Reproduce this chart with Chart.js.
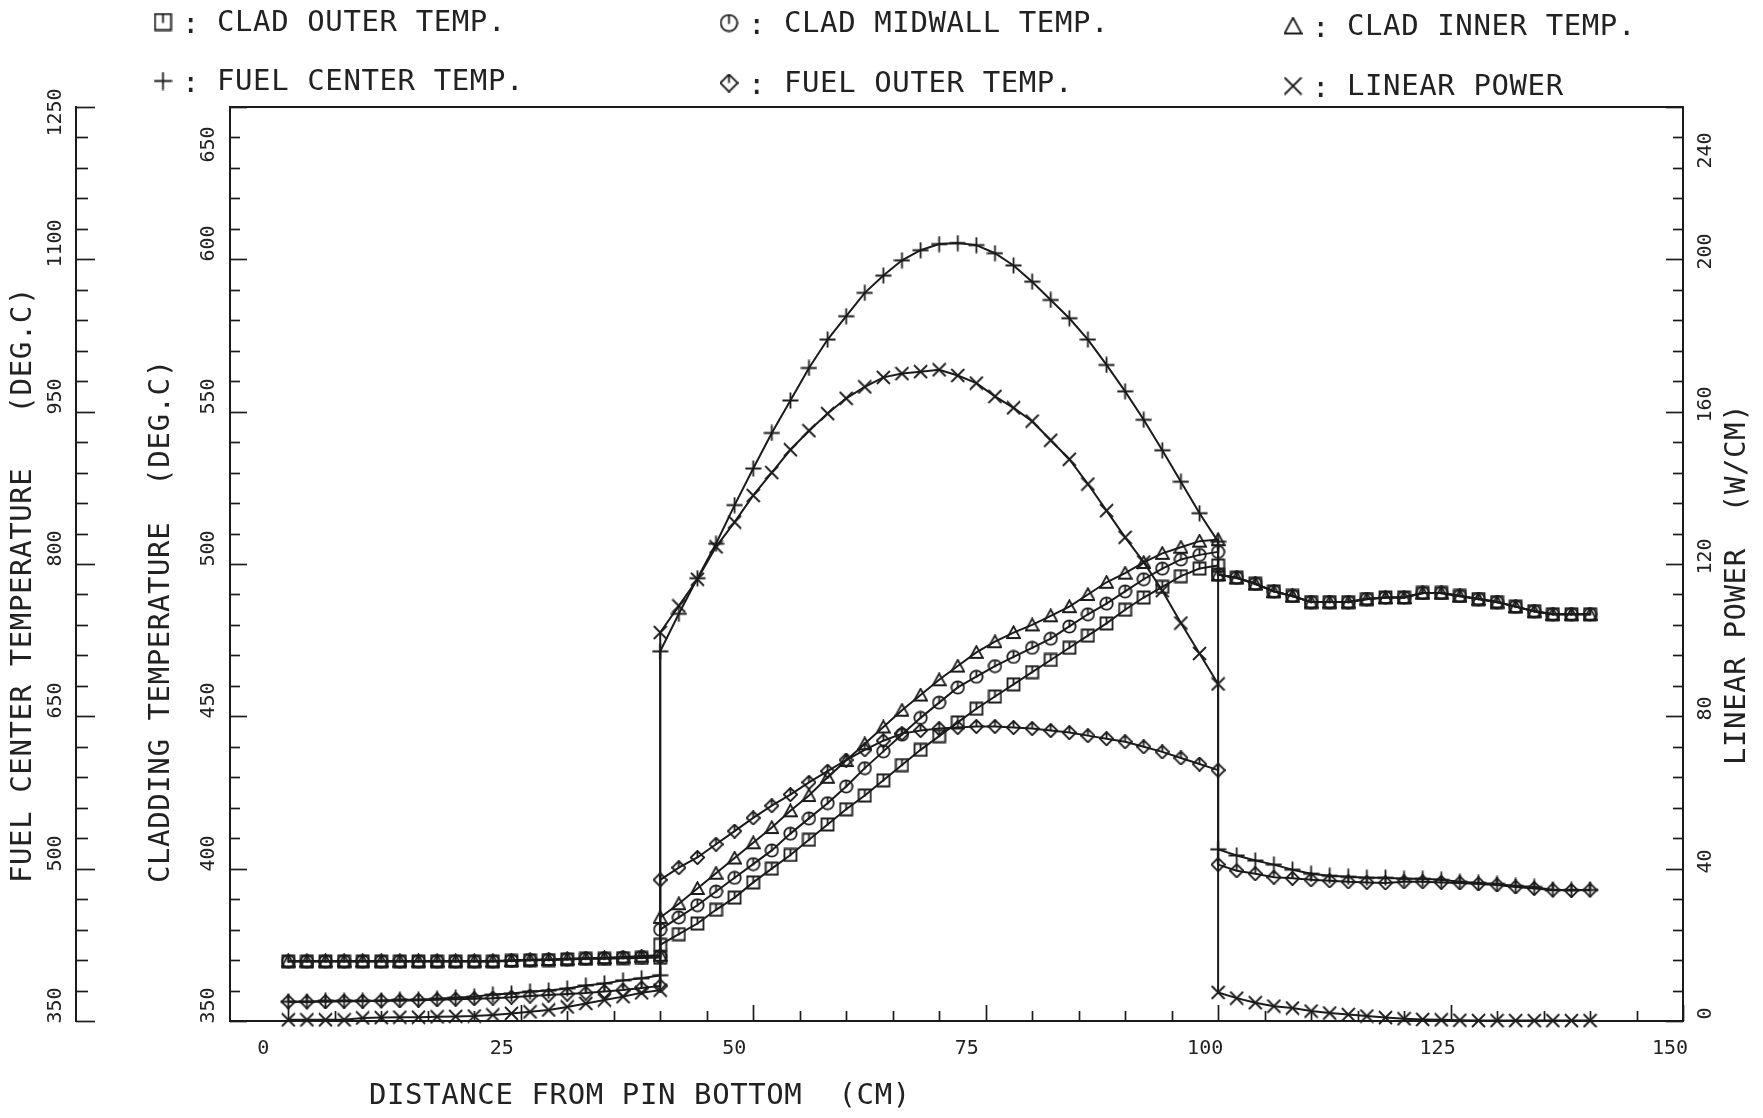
<!DOCTYPE html>
<html>
<head>
<meta charset="utf-8">
<title>Pin temperatures</title>
<script src="https://cdn.jsdelivr.net/npm/chart.js@4.4.1/dist/chart.umd.min.js"></script>
<style>
  html, body { margin: 0; padding: 0; background: #ffffff; }
  canvas { display: block; }
</style>
</head>
<body>
<canvas id="myChart" width="1763" height="1118"></canvas>
<script>
// axial position (cm from pin bottom): below fuel, fuel column, above fuel
const posLower = [0, 2, 4, 6, 8, 10, 12, 14, 16, 18, 20, 22, 24, 26, 28, 30, 32, 34, 36, 38, 40];
const posFuel = [40, 42, 44, 46, 48, 50, 52, 54, 56, 58, 60, 62, 64, 66, 68, 70, 72, 74, 76, 78, 80, 82, 84, 86, 88, 90, 92, 94, 96, 98, 100];
const posUpper = [100, 102, 104, 106, 108, 110, 112, 114, 116, 118, 120, 122, 124, 126, 128, 130, 132, 134, 136, 138, 140];

// cladding temperatures (deg C)
const cladOuterLower = [369.5, 369.5, 369.5, 369.5, 369.5, 369.5, 369.5, 369.5, 369.5, 369.5, 369.5, 369.5, 369.7, 369.9, 370.0, 370.2, 370.4, 370.4, 370.6, 370.7, 370.8];
const cladMidLower = [369.6, 369.6, 369.6, 369.6, 369.6, 369.6, 369.6, 369.6, 369.6, 369.6, 369.6, 369.6, 369.8, 370.0, 370.1, 370.3, 370.5, 370.6, 370.8, 371.0, 371.2];
const cladInnerLower = [369.7, 369.7, 369.7, 369.7, 369.7, 369.7, 369.7, 369.7, 369.7, 369.7, 369.7, 369.7, 369.9, 370.1, 370.2, 370.4, 370.6, 370.8, 371.0, 371.3, 371.6];
const cladOuterFuel = [375, 378.5, 382, 386.5, 390.5, 395.5, 400, 404.5, 409.5, 414.5, 419.5, 424, 429, 434, 439, 443.5, 448, 452.5, 456.5, 460.5, 464.5, 468.5, 472.5, 476.5, 480.5, 485, 489, 492.5, 496, 498.5, 499.5];
const cladMidFuel = [380, 384, 388, 392.5, 397, 401.5, 406, 411.5, 416.5, 421.5, 427, 433, 438.5, 444, 449.5, 454.5, 459.5, 463, 466.5, 469.5, 472.5, 475.5, 479.5, 483.5, 487, 491, 495, 498.5, 501.5, 503, 504];
const cladInnerFuel = [384, 388.5, 393.5, 398.5, 403.5, 408.5, 413.5, 419, 424, 430, 435.5, 441, 446.5, 452, 457, 462, 466.5, 471, 474.5, 477.5, 480, 483, 486, 490, 494, 497, 500.5, 503.5, 505.5, 507.5, 508];
const cladUpper = [496.5, 495.5, 493.5, 491, 489.5, 487.5, 487.5, 487.5, 488.5, 489, 489, 490.5, 490.5, 489.5, 488.5, 487.5, 486, 484.5, 483.5, 483.5, 483.5];

// fuel temperatures (deg C)
const fuelCenterLower = [369, 369, 370, 370, 370, 370, 371, 371, 372, 373, 374, 376, 377, 379, 380, 382, 385, 387, 390, 392, 395];
const fuelCenterFuel = [714, 751, 786, 820, 858, 894, 929, 961, 993, 1021, 1044, 1067, 1084, 1099, 1109, 1115, 1116, 1114, 1106, 1094, 1078, 1060, 1042, 1021, 996, 970, 942, 912, 881, 850, 822];
const fuelCenterUpper = [519, 513, 508, 504, 499, 495, 493, 492, 491, 491, 490, 490, 489, 487, 486, 485, 483, 482, 479, 479, 479];
const fuelOuterLower = [369, 369, 369, 369.5, 369.5, 370, 370, 370.5, 371, 371.5, 372, 372.5, 373.5, 374.5, 375.5, 376.5, 377.5, 379, 380.5, 382.5, 384.5];
const fuelOuterFuel = [489, 501, 511, 524, 537, 550, 562, 573, 585, 596, 607, 617, 626, 633, 636, 638, 639, 640, 640, 639, 638, 636, 634, 631, 628, 625, 620, 615, 609, 603, 597];
const fuelOuterUpper = [504, 498, 495, 491.5, 490.5, 489, 488, 487, 486.5, 486, 487, 487, 486.5, 486, 485, 484, 482, 480.5, 479, 478.5, 479];

// linear power (W/cm)
const powerLower = [0.3, 0.3, 0.3, 0.3, 0.8, 0.9, 1.0, 1.0, 1.1, 1.2, 1.3, 1.6, 2.0, 2.4, 2.9, 3.7, 4.6, 5.5, 6.4, 7.4, 8.1];
const powerFuel = [102, 109, 116, 124.5, 131, 138, 144, 150, 155, 159.5, 163.5, 166.5, 169, 170, 170.5, 171, 169.5, 167.5, 164, 161, 157.5, 152.5, 147.5, 141, 134, 127, 120.5, 113, 104.5, 96.5, 88.5];
const powerUpper = [7.5, 6.0, 4.8, 3.9, 3.4, 2.6, 2.1, 1.7, 1.3, 0.9, 0.6, 0.4, 0.3, 0.2, 0.1, 0.1, 0.1, 0.1, 0.1, 0.1, 0.1];

// labelled ticks
const distTicks = [0, 25, 50, 75, 100, 125, 150];
const cladTicks = [350, 400, 450, 500, 550, 600, 650];
const fuelTicks = [350, 500, 650, 800, 950, 1100, 1250];
const powerTicks = [0, 40, 80, 120, 160, 200, 240];

const seriesLabels = ["CLAD OUTER TEMP.", "CLAD MIDWALL TEMP.", "CLAD INNER TEMP.", "FUEL CENTER TEMP.", "FUEL OUTER TEMP.", "LINEAR POWER"];

const INK = "#1b1b1b";
const MONO = "'DejaVu Sans Mono', 'Liberation Mono', monospace";

function pts(lower, fuel, upper) {
    let out = [];
    posLower.forEach((x, i) => out.push({ x: x, y: lower[i] }));
    posFuel.forEach((x, i) => out.push({ x: x, y: fuel[i] }));
    posUpper.forEach((x, i) => out.push({ x: x, y: upper[i] }));
    return out;
}

// 4 minor steps between labelled ticks
function withMinor(major) {
    let out = [];
    for (let i = 0; i < major.length - 1; i++) {
        let step = (major[i + 1] - major[i]) / 5;
        for (let k = 0; k < 5; k++) out.push(major[i] + step * k);
    }
    out.push(major[major.length - 1]);
    return out;
}

// plotter style markers
function marker(kind, s, lw) {
    let c = document.createElement("canvas");
    c.width = s; c.height = s;
    let g = c.getContext("2d");
    g.strokeStyle = INK;
    g.lineWidth = lw;
    let m = s / 2;
    g.beginPath();
    if (kind == "square") {
        g.rect(1.5, 1.5, s - 3, s - 3);
        g.moveTo(m, 1.5); g.lineTo(m, m + 1);
    } else if (kind == "circle") {
        g.arc(m, m, m - 1.3, 0, Math.PI * 2);
        g.moveTo(m, 1.3); g.lineTo(m, m + 1);
    } else if (kind == "triangle") {
        g.moveTo(m, 1.2); g.lineTo(s - 1, s - 2); g.lineTo(1, s - 2); g.closePath();
    } else if (kind == "diamond") {
        g.moveTo(m, 0.8); g.lineTo(s - 0.8, m); g.lineTo(m, s - 0.8); g.lineTo(0.8, m); g.closePath();
        g.moveTo(m, 0.8); g.lineTo(m, m);
    } else if (kind == "plus") {
        g.moveTo(m, 0.5); g.lineTo(m, s - 0.5);
        g.moveTo(0.5, m); g.lineTo(s - 0.5, m);
    } else {
        g.moveTo(1, 1); g.lineTo(s - 1, s - 1);
        g.moveTo(s - 1, 1); g.lineTo(1, s - 1);
    }
    g.stroke();
    return c;
}

const kinds = ["square", "circle", "triangle", "plus", "diamond", "x"];
const markers = kinds.map(k => marker(k, k == "plus" ? 17 : 15, 1.8));
const legendMarks = kinds.map(k => marker(k, 19, 1.8));

function line(label, data, axis, style) {
    return {
        label: label,
        data: data,
        yAxisID: axis,
        borderColor: INK,
        borderWidth: 2,
        pointStyle: style,
        pointRadius: 7,
        tension: 0,
        fill: false,
        clip: false
    };
}

// ticks pointing into the plot and rotated tick labels, placed from the scales
const decor = {
    id: "decor",
    afterDraw(chart) {
        const ctx = chart.ctx;
        const a = chart.chartArea;
        ctx.save();
        ctx.strokeStyle = INK;
        ctx.lineWidth = 2;
        ctx.beginPath();
        ctx.moveTo(a.left, a.top); ctx.lineTo(a.right, a.top);
        ctx.stroke();

        ctx.lineWidth = 1.7;
        // [scale, labels, axis x, direction, minor, major, label x, label shift, top label shift]
        let yaxes = [
            ["yClad", cladTicks, a.left, 1, 10, 17, 209, -16, 37],
            ["yFuel", fuelTicks, chart.scales.yFuel.right, 1, 12, 19, 56, -16, 5],
            ["yPower", powerTicks, a.right, -1, 10, 17, 1706, -8, 43]
        ];
        ctx.fillStyle = "#222";
        ctx.font = "20px " + MONO;
        ctx.textAlign = "center";
        ctx.textBaseline = "middle";
        yaxes.forEach(d => {
            let sc = chart.scales[d[0]];
            sc.ticks.forEach(t => {
                let yy = Math.round(sc.getPixelForValue(t.value)) + 0.5;
                let major = d[1].includes(t.value);
                let len = major ? d[5] : d[4];
                ctx.beginPath();
                ctx.moveTo(d[2], yy); ctx.lineTo(d[2] + d[3] * len, yy);
                ctx.stroke();
                if (major) {
                    let top = t.value == d[1][d[1].length - 1];
                    ctx.save();
                    ctx.translate(d[6], yy + (top ? d[8] : d[7]));
                    ctx.rotate(-Math.PI / 2);
                    ctx.fillText(String(t.value), 0, 0);
                    ctx.restore();
                }
            });
        });
        let xs = chart.scales.x;
        xs.ticks.forEach(t => {
            let xx = Math.round(xs.getPixelForValue(t.value)) + 0.5;
            let len = distTicks.includes(t.value) ? 16 : 10;
            ctx.beginPath();
            ctx.moveTo(xx, a.bottom); ctx.lineTo(xx, a.bottom - len);
            ctx.stroke();
        });

        // legend
        ctx.font = "29px " + MONO;
        ctx.letterSpacing = "0.6px";
        ctx.textAlign = "left";
        let cols = [[163, 217], [729, 784], [1293, 1347]];
        let rows = [[23, 24, 27], [82, 84, 87]];
        for (let i = 0; i < 6; i++) {
            let c = i % 3, r = Math.floor(i / 3);
            let yy = rows[r][c];
            ctx.drawImage(legendMarks[i], cols[c][0] - 9.5, yy - 10.5);
            ctx.fillText(":", cols[c][0] + 19, yy + 2);
            ctx.fillText(seriesLabels[i], cols[c][1], yy);
        }

        // axis titles
        ctx.fillText("DISTANCE FROM PIN BOTTOM  (CM)", 369, 1096);
        let vtitle = (txt, x, yStart) => {
            ctx.save();
            ctx.translate(x, yStart);
            ctx.rotate(-Math.PI / 2);
            ctx.fillText(txt, 0, 0);
            ctx.restore();
        };
        vtitle("FUEL CENTER TEMPERATURE   (DEG.C)", 23, 883);
        vtitle("CLADDING TEMPERATURE  (DEG.C)", 161, 883);
        vtitle("LINEAR POWER  (W/CM)", 1737, 765);
        ctx.restore();
    }
};

function yScale(min, max, major, pos, weight, width) {
    return {
        type: "linear",
        position: pos,
        weight: weight,
        min: min,
        max: max,
        grid: { display: false },
        border: { display: true, color: INK, width: 2 },
        afterBuildTicks: s => { s.ticks = withMinor(major).map(v => ({ value: v })); },
        afterFit: s => { s.width = width; },
        ticks: { display: false, autoSkip: false }
    };
}

let chart = new Chart("myChart", {
    type: "line",
    data: {
        datasets: [
            line(seriesLabels[0], pts(cladOuterLower, cladOuterFuel, cladUpper), "yClad", markers[0]),
            line(seriesLabels[1], pts(cladMidLower, cladMidFuel, cladUpper), "yClad", markers[1]),
            line(seriesLabels[2], pts(cladInnerLower, cladInnerFuel, cladUpper), "yClad", markers[2]),
            line(seriesLabels[3], pts(fuelCenterLower, fuelCenterFuel, fuelCenterUpper), "yFuel", markers[3]),
            line(seriesLabels[4], pts(fuelOuterLower, fuelOuterFuel, fuelOuterUpper), "yFuel", markers[4]),
            line(seriesLabels[5], pts(powerLower, powerFuel, powerUpper), "yPower", markers[5])
        ]
    },
    options: {
        responsive: false,
        animation: false,
        layout: { padding: { top: 107, left: 0, right: 0, bottom: 0 } },
        plugins: {
            legend: { display: false },
            tooltip: { enabled: false }
        },
        scales: {
            x: {
                type: "linear",
                min: -6.27,
                max: 150,
                grid: { display: false },
                border: { display: true, color: INK, width: 2 },
                afterBuildTicks: s => { s.ticks = withMinor(distTicks).map(v => ({ value: v })); },
                afterFit: s => { s.height = 97; },
                ticks: {
                    autoSkip: false,
                    maxRotation: 0,
                    minRotation: 0,
                    align: "start",
                    labelOffset: -31,
                    padding: 8,
                    color: "#222",
                    font: { family: MONO, size: 20 },
                    callback: v => distTicks.includes(v) ? String(v) : ""
                }
            },
            yClad: yScale(350, 650, cladTicks, "left", 0, 154),
            yFuel: yScale(350, 1250, fuelTicks, "left", 10, 76),
            yPower: yScale(0, 240, powerTicks, "right", 0, 80)
        }
    },
    plugins: [decor]
});
</script>
</body>
</html>
